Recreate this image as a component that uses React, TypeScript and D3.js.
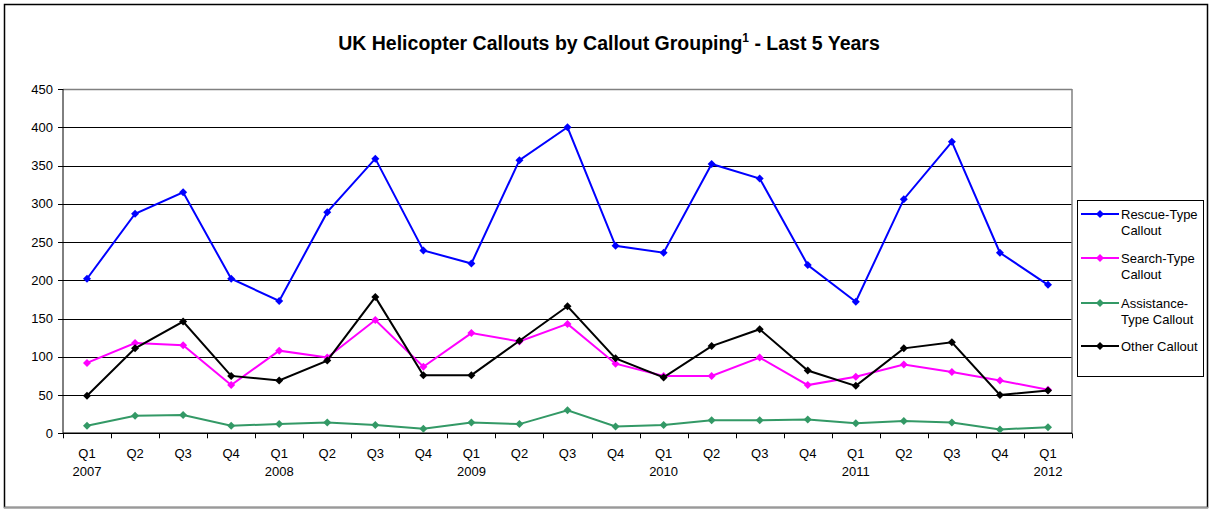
import React from "react";
import * as d3 from "d3";

const quarters = ["Q1","Q2","Q3","Q4","Q1","Q2","Q3","Q4","Q1","Q2","Q3","Q4","Q1","Q2","Q3","Q4","Q1","Q2","Q3","Q4","Q1"];
const years = ["2007","","","","2008","","","","2009","","","","2010","","","","2011","","","","2012"];
const rescue = [202,287,315,202,173,289,359,239,222,357,400,245,236,352,333,220,172,306,381,236,194];
const search = [92,118,115,63,108,99,148,87,131,120,143,91,75,75,99,63,74,90,80,69,57];
const assistance = [10,23,24,10,12,14,11,6,14,12,30,9,11,17,17,18,13,16,14,5,8];
const other = [49,111,146,75,69,95,178,76,76,121,166,98,73,114,136,82,62,111,119,50,56];
const yTicks = [0,50,100,150,200,250,300,350,400,450];

const series = [
  { name: ["Rescue-Type", "Callout"], values: rescue, color: "#0000FF" },
  { name: ["Search-Type", "Callout"], values: search, color: "#FF00FF" },
  { name: ["Assistance-", "Type Callout"], values: assistance, color: "#339966" },
  { name: ["Other Callout"], values: other, color: "#000000" },
];

const W = 1211, H = 509;
const L = 63, R = 1072, T = 89, B = 433.3;
const FONT = "'Liberation Sans', Arial, sans-serif";

export default function App() {
  const idx = quarters.map((_, i) => String(i));
  const x = d3.scaleBand().domain(idx).range([L, R]);
  const y = d3.scaleLinear().domain([0, 450]).range([B, T]);
  const line = d3.line<number>().x((_, i) => (x(String(i)) as number) + x.bandwidth() / 2).y((d) => y(d));
  const diamond = (cx: number, cy: number, r = 4) => `M${cx},${cy - r}L${cx + r},${cy}L${cx},${cy + r}L${cx - r},${cy}Z`;
  const legendY = [214, 258, 303, 346];

  return (
    <svg width={W} height={H} style={{ position: "absolute", left: 0, top: 0 }} fontFamily={FONT}>
      <rect x={0} y={0} width={W} height={H} fill="#fff" />
      <rect x={4.5} y={4.5} width={1203} height={503} fill="#fff" stroke="#000" strokeWidth={1.5} />
      <line x1={4} x2={1208} y1={507.5} y2={507.5} stroke="#999" strokeWidth={1.5} />
      <text x={609} y={50} textAnchor="middle" fontSize={19.5} fontWeight="bold">
        UK Helicopter Callouts by Callout Grouping
        <tspan fontSize={12} dy={-8}>1</tspan>
        <tspan dy={8}> - Last 5 Years</tspan>
      </text>
      {/* grid */}
      {yTicks.filter((t) => t > 0 && t < 450).map((t) => (
        <line key={t} x1={L} x2={R} y1={Math.round(y(t)) + 0.5} y2={Math.round(y(t)) + 0.5} stroke="#000" strokeWidth={1} />
      ))}
      <line x1={L} x2={R} y1={Math.round(y(450)) + 0.5} y2={Math.round(y(450)) + 0.5} stroke="#808080" strokeWidth={1.5} />
      <line x1={R} x2={R} y1={T} y2={B} stroke="#808080" strokeWidth={1.5} />
      {/* y axis */}
      <line x1={L} x2={L} y1={T} y2={B} stroke="#000" strokeWidth={1} />
      {yTicks.map((t) => (
        <g key={t}>
          <line x1={L - 5} x2={L} y1={Math.round(y(t)) + 0.5} y2={Math.round(y(t)) + 0.5} stroke="#000" />
          <text x={L - 10} y={y(t) + 4.5} textAnchor="end" fontSize={13}>{t}</text>
        </g>
      ))}
      {/* x axis */}
      <line x1={L} x2={R} y1={B} y2={B} stroke="#000" strokeWidth={1.5} />
      {idx.concat([String(idx.length)]).map((k, i) => {
        const xx = Math.round(L + i * x.bandwidth()) + 0.5;
        return <line key={"t" + k} x1={xx} x2={xx} y1={B} y2={B + 5} stroke="#000" />;
      })}
      {quarters.map((q, i) => {
        const cx = (x(String(i)) as number) + x.bandwidth() / 2;
        return (
          <g key={"q" + i}>
            <text x={cx} y={457.5} textAnchor="middle" fontSize={13}>{q}</text>
            {years[i] && <text x={cx} y={476} textAnchor="middle" fontSize={13}>{years[i]}</text>}
          </g>
        );
      })}
      {/* series */}
      {series.map((s) => (
        <g key={s.name.join(" ")}>
          <path d={line(s.values) as string} fill="none" stroke={s.color} strokeWidth={2} />
          {s.values.map((v, i) => (
            <path key={i} d={diamond((x(String(i)) as number) + x.bandwidth() / 2, y(v))} fill={s.color} />
          ))}
        </g>
      ))}
      {/* legend */}
      <rect x={1077.5} y={200.5} width={126} height={176} fill="#fff" stroke="#000" strokeWidth={1} />
      {series.map((s, i) => (
        <g key={"lg" + i}>
          <line x1={1081} x2={1119} y1={legendY[i]} y2={legendY[i]} stroke={s.color} strokeWidth={2} />
          <path d={diamond(1100, legendY[i])} fill={s.color} />
          {s.name.map((n, j) => (
            <text key={j} x={1121} y={legendY[i] + 4.5 + j * 16} fontSize={13}>{n}</text>
          ))}
        </g>
      ))}
    </svg>
  );
}
